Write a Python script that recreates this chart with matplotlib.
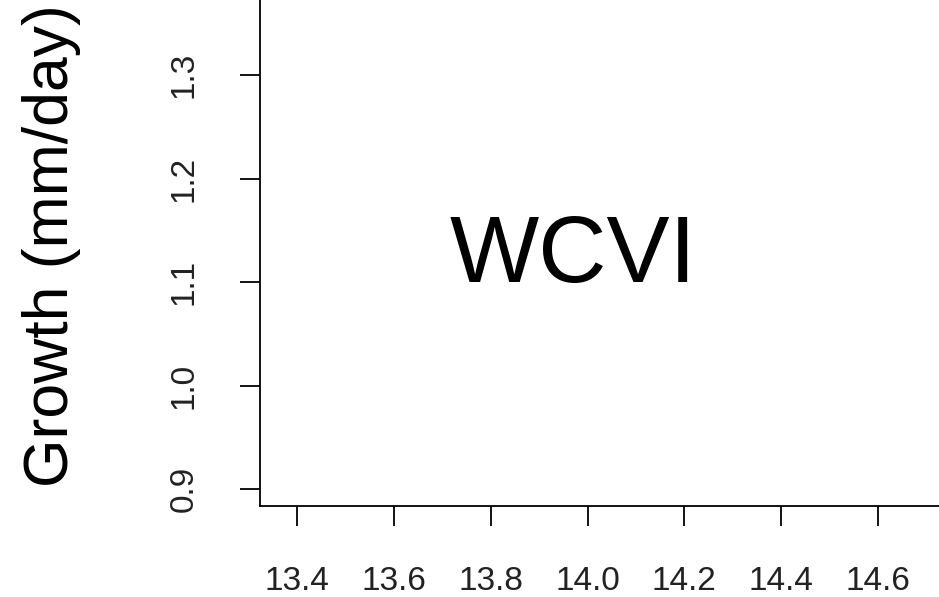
import matplotlib
matplotlib.use("Agg")
import matplotlib.pyplot as plt

plt.rcParams["font.family"] = ["Liberation Sans", "DejaVu Sans"]

x_ticks = [13.4, 13.6, 13.8, 14.0, 14.2, 14.4, 14.6]
y_ticks = [0.9, 1.0, 1.1, 1.2, 1.3]
region = "WCVI"
region_x, region_y = 13.97, 1.1

W, H, DPI = 939, 597, 100
fig = plt.figure(figsize=(W / DPI, H / DPI), dpi=DPI)

# plot area runs past the top and right edges of the figure
left_px, bottom_px = 260, 506
ax = fig.add_axes([left_px / W, (H - bottom_px) / H, 1.0, 1.0])
px_per_x = 484.2
px_per_y = 1035.0
x0 = 13.4 - (297 - left_px) / px_per_x
y0 = 0.9 - (bottom_px - 489) / px_per_y
ax.set_xlim(x0, x0 + W / px_per_x)
ax.set_ylim(y0, y0 + H / px_per_y)

for s in ["top", "right"]:
    ax.spines[s].set_visible(False)
for s in ["left", "bottom"]:
    ax.spines[s].set_linewidth(1.3)
    ax.spines[s].set_color("black")

ax.set_xticks(x_ticks)
ax.set_xticklabels([f"{v:.1f}" for v in x_ticks])
ax.set_yticks(y_ticks)
ax.set_yticklabels([f"{v:.1f}" for v in y_ticks], rotation=90, va="center")
ax.tick_params(axis="both", length=14.5, width=1.3, pad=29, labelsize=24,
               colors="black", labelcolor="#222222")

ax.text(region_x, region_y, region, fontsize=68, ha="center", va="baseline")

fig.text(51.5 / W, (H - 246) / H, "Growth (mm/day)", rotation=90,
         fontsize=45, ha="center", va="center")

fig.savefig("out.png", dpi=DPI)
